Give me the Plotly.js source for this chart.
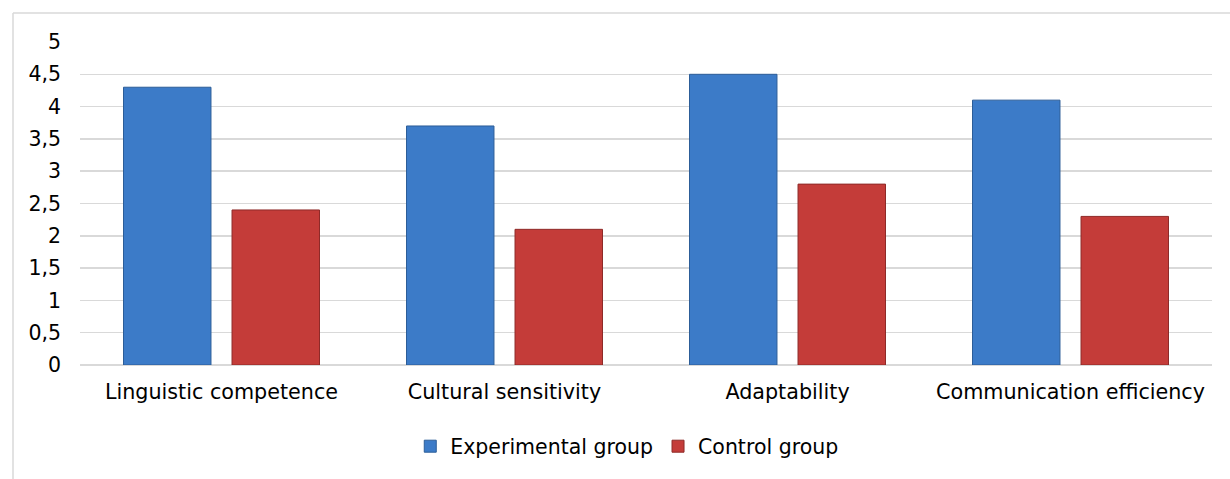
<!DOCTYPE html>
<html>
<head>
<meta charset="utf-8">
<script src="https://cdn.plot.ly/plotly-3.0.1.min.js"></script>
<style>html,body{margin:0;padding:0;background:#fff;}#chart{width:1230px;height:479px;}</style>
</head>
<body>
<div id="chart"></div>
<script>
const categories = ["Linguistic competence", "Cultural sensitivity", "Adaptability", "Communication efficiency"];
const experimental = [4.3, 3.7, 4.5, 4.1];
const control = [2.4, 2.1, 2.8, 2.3];
const seriesNames = ["Experimental group", "Control group"];
const yTickVals = [0, 0.5, 1, 1.5, 2, 2.5, 3, 3.5, 4, 4.5, 5];
const yTickText = ["0", "0,5", "1", "1,5", "2", "2,5", "3", "3,5", "4", "4,5", "5"];

const FONT = "DejaVu Sans, Verdana, sans-serif";
const traces = [
  {type: "bar", name: seriesNames[0], x: categories, y: experimental,
   marker: {color: "#3c7bc8", line: {color: "#2c5d98", width: 1}}},
  {type: "bar", name: seriesNames[1], x: categories, y: control,
   marker: {color: "#c43c39", line: {color: "#8e2a28", width: 1}}}
];

const W = 1132, H = 323;
const layout = {
  width: 1230, height: 479,
  margin: {l: 80, r: 18, t: 42, b: 114},
  paper_bgcolor: "#fff", plot_bgcolor: "#fff",
  barmode: "group", bargap: 0.233, bargroupgap: 0.194,
  font: {family: FONT, size: 20.7, color: "#000"},
  showlegend: true,
  legend: {orientation: "h", x: 0.483, xanchor: "center", y: -0.19, yanchor: "top",
           font: {family: FONT, size: 20.5, color: "#000"}, itemwidth: 30, tracegroupgap: 0},
  xaxis: {type: "category", showgrid: false, zeroline: false, showline: false, ticks: "",
          ticklabelstandoff: 12, tickfont: {family: FONT, size: 20.7}},
  yaxis: {range: [0, 5], tickvals: yTickVals, ticktext: yTickText, showgrid: true,
          gridcolor: "#d9d9d9", gridwidth: 1.5, zeroline: true, zerolinecolor: "#d9d9d9",
          zerolinewidth: 1.5, showline: false, ticks: "", ticklabelstandoff: 18,
          tickfont: {family: FONT, size: 20.5}},
  shapes: [
    {type: "line", xref: "paper", yref: "paper", x0: (13 - 80) / W, x1: (1230 - 80) / W,
     y0: (365 - 13) / H, y1: (365 - 13) / H, line: {color: "#d9d9d9", width: 1.5}},
    {type: "line", xref: "paper", yref: "paper", x0: (13 - 80) / W, x1: (13 - 80) / W,
     y0: (365 - 13) / H, y1: (365 - 479) / H, line: {color: "#d9d9d9", width: 1.5}}
  ]
};
Plotly.newPlot("chart", traces, layout, {displayModeBar: false, staticPlot: true});
</script>
</body>
</html>
